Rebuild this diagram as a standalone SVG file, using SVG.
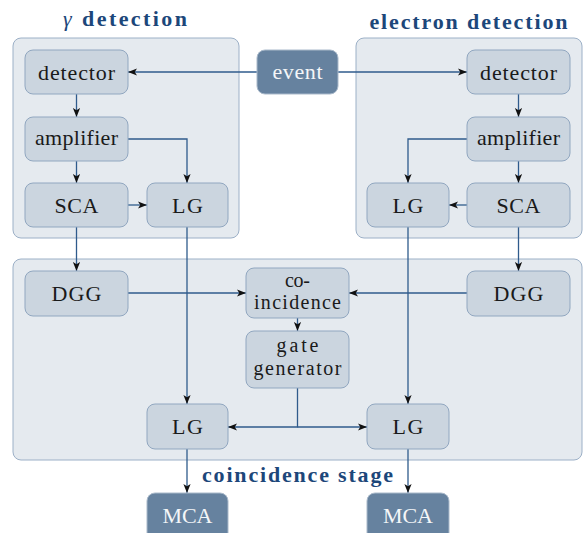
<svg xmlns="http://www.w3.org/2000/svg" width="584" height="533" viewBox="0 0 584 533">
<defs>
<marker id="arr" viewBox="0 0 10 8" refX="10" refY="4" markerWidth="9" markerHeight="7.2" markerUnits="userSpaceOnUse" orient="auto">
<path d="M0,0 L10,4 L0,8 L2.5,4 Z" fill="#111"/>
</marker>
<style>
.cont{fill:#e5eaef;stroke:#9cb0c7;stroke-width:1}
.node{fill:#cbd5df;stroke:#91a7c0;stroke-width:1}
.dark{fill:#66829f;stroke:#a9b9ca;stroke-width:1}
.t{font-family:"Liberation Serif","Times New Roman",serif;font-size:22px;fill:#1a1a1a;text-anchor:middle}
.t2{font-family:"Liberation Serif","Times New Roman",serif;font-size:20px;fill:#1a1a1a;text-anchor:middle}
.tw{font-family:"Liberation Serif","Times New Roman",serif;font-size:22px;fill:#f4f6f8;text-anchor:middle}
.title{font-family:"Liberation Serif","Times New Roman",serif;font-size:22px;font-weight:bold;fill:#1d477a;text-anchor:middle}
.c{fill:none;stroke:#2f5b8c;stroke-width:1.3}
</style>
</defs>
<g id="containers">
<rect id="gamma-box" class="cont" x="13" y="38" width="226" height="200" rx="8"/>
<rect id="electron-box" class="cont" x="356" y="38" width="226" height="200" rx="8"/>
<rect id="coinc-box" class="cont" x="13" y="259" width="569" height="201" rx="8"/>
</g>
<g id="titles">
<text class="title" x="125" y="26" textLength="124" lengthAdjust="spacing"><tspan font-style="italic" font-weight="normal">γ</tspan> detection</text>
<text class="title" x="468.5" y="29" textLength="198" lengthAdjust="spacing">electron detection</text>
<text class="title" x="297.5" y="482" textLength="191" lengthAdjust="spacing">coincidence stage</text>
</g>
<g id="connectors">
<path class="c" d="M257,72 H128" marker-end="url(#arr)"/>
<path class="c" d="M338,72 H467" marker-end="url(#arr)"/>
<path class="c" d="M76.5,94 V117" marker-end="url(#arr)"/>
<path class="c" d="M76.5,161 V183" marker-end="url(#arr)"/>
<path class="c" d="M128,139 H187 V183" marker-end="url(#arr)"/>
<path class="c" d="M128,205 H147" marker-end="url(#arr)"/>
<path class="c" d="M76.5,227 V271" marker-end="url(#arr)"/>
<path class="c" d="M187,227 V404" marker-end="url(#arr)"/>
<path class="c" d="M518.5,94 V117" marker-end="url(#arr)"/>
<path class="c" d="M518.5,161 V183" marker-end="url(#arr)"/>
<path class="c" d="M467,139 H408 V183" marker-end="url(#arr)"/>
<path class="c" d="M467,205 H449" marker-end="url(#arr)"/>
<path class="c" d="M518.5,227 V271" marker-end="url(#arr)"/>
<path class="c" d="M408,227 V404" marker-end="url(#arr)"/>
<path class="c" d="M128,293 H246" marker-end="url(#arr)"/>
<path class="c" d="M467,293 H349" marker-end="url(#arr)"/>
<path class="c" d="M297.5,318 V331" marker-end="url(#arr)"/>
<path class="c" d="M297.5,388 V427 H228" marker-end="url(#arr)"/>
<path class="c" d="M297.5,427 H367" marker-end="url(#arr)"/>
<path class="c" d="M187,449 V493" marker-end="url(#arr)"/>
<path class="c" d="M408,449 V493" marker-end="url(#arr)"/>
</g>
<g id="event"><rect class="dark" x="257" y="50" width="81" height="44" rx="8"/><text class="tw" x="297.5" y="79" textLength="50" lengthAdjust="spacing">event</text></g>
<g id="g-detector"><rect class="node" x="25" y="50" width="103" height="44" rx="8"/><text class="t" x="76.5" y="80" textLength="77" lengthAdjust="spacing">detector</text></g>
<g id="g-amplifier"><rect class="node" x="25" y="117" width="103" height="44" rx="8"/><text class="t" x="76.5" y="144.5" textLength="83" lengthAdjust="spacing">amplifier</text></g>
<g id="g-sca"><rect class="node" x="25" y="183" width="103" height="44" rx="8"/><text class="t" x="76.5" y="212.5" textLength="44" lengthAdjust="spacing">SCA</text></g>
<g id="g-lg"><rect class="node" x="147" y="183" width="81" height="44" rx="8"/><text class="t" x="187.5" y="212.5" textLength="31" lengthAdjust="spacing">LG</text></g>
<g id="e-detector"><rect class="node" x="467" y="50" width="103" height="44" rx="8"/><text class="t" x="518.5" y="80" textLength="77" lengthAdjust="spacing">detector</text></g>
<g id="e-amplifier"><rect class="node" x="467" y="117" width="103" height="44" rx="8"/><text class="t" x="518.5" y="144.5" textLength="83" lengthAdjust="spacing">amplifier</text></g>
<g id="e-sca"><rect class="node" x="467" y="183" width="103" height="44" rx="8"/><text class="t" x="518.5" y="212.5" textLength="44" lengthAdjust="spacing">SCA</text></g>
<g id="e-lg"><rect class="node" x="367" y="183" width="82" height="44" rx="8"/><text class="t" x="408" y="212.5" textLength="31" lengthAdjust="spacing">LG</text></g>
<g id="g-dgg"><rect class="node" x="25" y="271" width="103" height="45" rx="8"/><text class="t" x="76.5" y="301" textLength="50" lengthAdjust="spacing">DGG</text></g>
<g id="e-dgg"><rect class="node" x="467" y="271" width="103" height="45" rx="8"/><text class="t" x="518.5" y="301" textLength="50" lengthAdjust="spacing">DGG</text></g>
<g id="coincidence"><rect class="node" x="246" y="268" width="103" height="50" rx="8"/><text class="t2" x="297.5" y="286.5" textLength="25" lengthAdjust="spacing">co-</text><text class="t2" x="297.5" y="309" textLength="87" lengthAdjust="spacing">incidence</text></g>
<g id="gate-generator"><rect class="node" x="246" y="331" width="103" height="57" rx="8"/><text class="t2" x="297.5" y="352" textLength="42" lengthAdjust="spacing">gate</text><text class="t2" x="297.5" y="375" textLength="88" lengthAdjust="spacing">generator</text></g>
<g id="c-lg-left"><rect class="node" x="147" y="404" width="81" height="45" rx="8"/><text class="t" x="187.5" y="434" textLength="31" lengthAdjust="spacing">LG</text></g>
<g id="c-lg-right"><rect class="node" x="367" y="404" width="82" height="45" rx="8"/><text class="t" x="408" y="434" textLength="31" lengthAdjust="spacing">LG</text></g>
<g id="mca-left"><rect class="dark" x="147" y="493" width="81" height="50" rx="8"/><text class="tw" x="187.5" y="523" textLength="50" lengthAdjust="spacing">MCA</text></g>
<g id="mca-right"><rect class="dark" x="367" y="493" width="82" height="50" rx="8"/><text class="tw" x="408" y="523" textLength="50" lengthAdjust="spacing">MCA</text></g>
</svg>
